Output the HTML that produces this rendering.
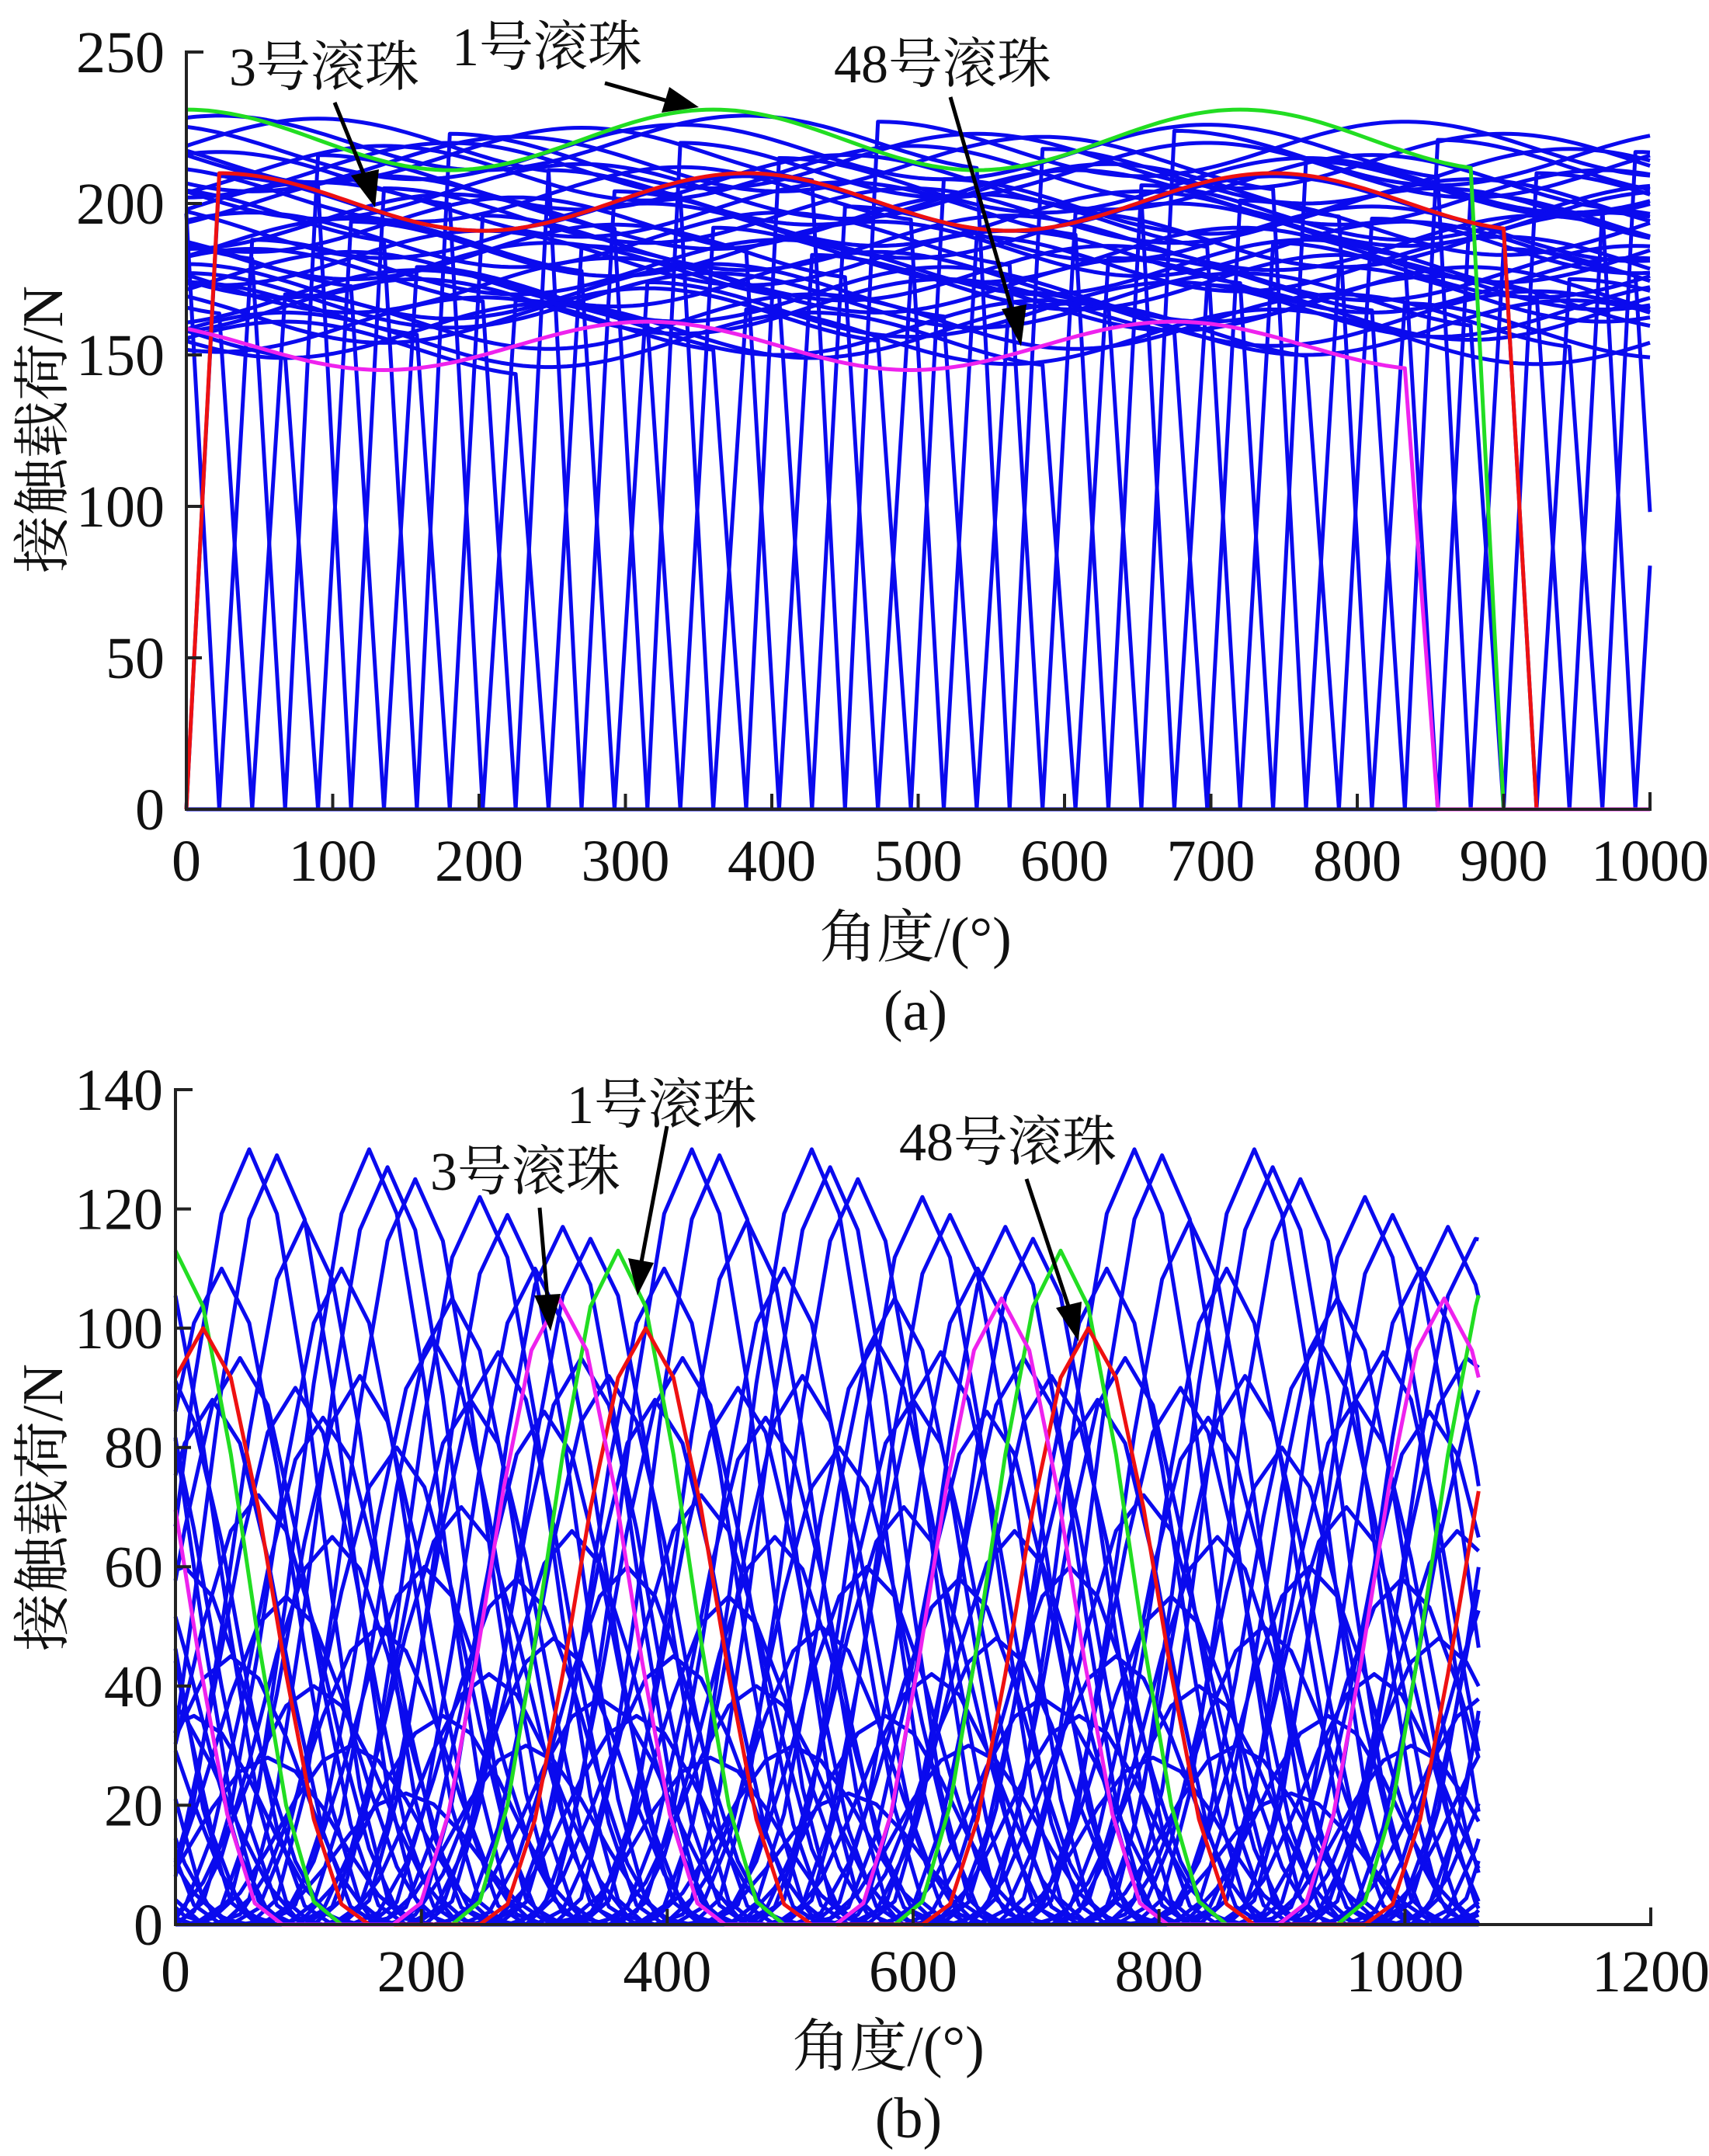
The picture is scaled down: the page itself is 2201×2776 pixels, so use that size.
<!DOCTYPE html>
<html><head><meta charset="utf-8"><style>
html,body{margin:0;padding:0;background:#fff}
svg{display:block}
text{font-family:"Liberation Serif","Noto Serif CJK SC",serif;fill:#111}
</style></head><body>
<svg id="fig" width="2201" height="2776" viewBox="0 0 2201 2776" xmlns="http://www.w3.org/2000/svg">
<g id="chartA"></g>
<g id="chartB"></g>
</svg>
<script>
// ---------- Chart (a) data ----------
const xTicksA = [0,100,200,300,400,500,600,700,800,900,1000];
const yTicksA = [0,50,100,150,200,250];
// ball start angles (zero point before ramp) = -900 + 22.5*j ; mean load per ball
const ballMeansA = [205,172,190,158,214,181,196,165,208,176,152,219,186,200,169,211,160,193,178,216,
  184,163,203,171,220,188,155,198,175,210,166,194,182,213,158,204,173,191,217,168,
  200,179,161,207,185,196,170,214,187,159,202,177,195,165,211,183,156,206,174,190,
  218,167,199,180,162,209,188,173,197,215,164,192,178,205,170,186,158,212,194,176,201,166,189,208,172];
const ampA = 9;
// highlighted balls
const hlNamesA = ['ball-1','ball-3','ball-48'];
const hlStartA = [-22.5, 0, -67.5];
const hlMeanA = [221, 200.5, 153];
const hlAmpA = [10, 9.5, 8];
const hlColorA = ['#22dd22','#ee1111','#ee22ee'];

// ---------- Chart (b) data ----------
const xTicksB = [0,200,400,600,800,1000,1200];
const yTicksB = [0,20,40,60,80,100,120,140];
const ballPhaseB = [7.5,15,30,37.5,45,52.5,60,67.5,75,82.5,90,97.5,105,112.5,120,127.5,135,142.5,150,157.5,
  165,172.5,180,187.5,195,202.5,210,217.5,225,232.5,240,247.5,255,262.5,270,277.5,285,292.5,300,307.5,
  315,322.5,330,337.5,345,352.5];
const ballPeakB = [60,35,88,110,45,95,130,72,28,129,55,90,118,40,85,65,110,30,92,130,
  50,127,80,22,125,60,98,35,105,70,88,122,42,96,119,58,30,110,86,48,
  117,66,95,115,38,92];
const hlNamesB = ['ball-1','ball-3','ball-48'];
const hlPhaseB = [0, 22.5, 312];
const hlPeakB = [113, 100, 105];
const hlColorB = ['#22dd22','#ee1111','#ee22ee'];

const NS='http://www.w3.org/2000/svg';
function mk(parent, tag, attrs){const e=document.createElementNS(NS,tag);for(const k in attrs)e.setAttribute(k,attrs[k]);parent.appendChild(e);return e;}
const SW=5;

// ---------- Chart A ----------
(function(){
  const g=document.getElementById('chartA');
  const X0=240,X1=2125,Y0=1042,Y1=67;
  const xs=v=>X0+(v/1000)*(X1-X0);
  const ys=v=>Y0-(v/250)*(Y0-Y1);
  function ballPts(s,mean,amp){
    const pts=[];
    const wave=t=>mean+amp*Math.cos(2*Math.PI*(t-s-22.5)/360);
    const val=t=>{
      if(t<=s||t>=s+922.5) return 0;
      if(t<s+22.5) return wave(s+22.5)*(t-s)/22.5;
      if(t>s+900) return wave(s+900)*(s+922.5-t)/22.5;
      return wave(t);
    };
    const ts=new Set([0,1000]);
    for(let t=0;t<=1000;t+=5)ts.add(t);
    [s,s+22.5,s+900,s+922.5].forEach(t=>{if(t>0&&t<1000)ts.add(t);});
    [...ts].sort((a,b)=>a-b).forEach(t=>pts.push(xs(t).toFixed(1)+','+ys(val(t)).toFixed(1)));
    return pts.join(' ');
  }
  const lines=mk(g,'g',{});
  
  
  ballMeansA.forEach((m,j)=>{
    const s=-900+22.5*j;
    const p=mk(lines,'polyline',{points:ballPts(s,m,ampA),fill:'none',stroke:'#0a0aee','stroke-width':SW,'stroke-linejoin':'round'});
    
    
  });
  hlStartA.forEach((s,i)=>{
    const p=mk(g,'polyline',{points:ballPts(s,hlMeanA[i],hlAmpA[i]),fill:'none',stroke:hlColorA[i],'stroke-width':SW,'stroke-linejoin':'round'});
    
    
  });
  const ax=mk(g,'path',{d:`M${X0+22},${Y1}H${X0}V${Y0}H${X1}V${Y0-22}`,fill:'none',stroke:'#222','stroke-width':4});
  
  
  xTicksA.forEach(v=>{
    mk(g,'line',{x1:xs(v),x2:xs(v),y1:Y0,y2:Y0-20,stroke:'#222','stroke-width':4});
    const t=mk(g,'text',{x:xs(v),y:1134,'font-size':76,'text-anchor':'middle'});t.textContent=v;
    
    
  });
  yTicksA.forEach(v=>{
    mk(g,'line',{x1:X0,x2:X0+20,y1:ys(v),y2:ys(v),stroke:'#222','stroke-width':4});
    const t=mk(g,'text',{x:212,y:ys(v)+26,'font-size':76,'text-anchor':'end'});t.textContent=v;
    
    
  });
})();

// ---------- Chart B ----------
(function(){
  const g=document.getElementById('chartB');
  const X0=226,X1=2126,Y0=2478,Y1=1403;
  const xs=v=>X0+(v/1200)*(X1-X0);
  const ys=v=>Y0-(v/140)*(Y0-Y1);
  function bell(d,h){const hw=135;d=Math.abs(d);if(d>=hw)return 0;return h*Math.pow(Math.cos(Math.PI/2*d/hw),2.5);}
  function ballPts(ph,h){
    const val=t=>{let best=0;for(let k=-2;k<=4;k++){best=Math.max(best,bell(t-(ph+360*k),h));}return best;};
    const ts=[0];
    let start=ph-22.5*Math.ceil(ph/22.5);
    for(let t=start;t<=1060;t+=22.5){if(t>0)ts.push(t);}
    ts.push(1060);
    return ts.map(t=>xs(t).toFixed(1)+','+ys(val(t)).toFixed(1)).join(' ');
  }
  const lines=mk(g,'g',{});
  
  
  ballPhaseB.forEach((ph,i)=>{
    const p=mk(lines,'polyline',{points:ballPts(ph,ballPeakB[i]),fill:'none',stroke:'#0a0aee','stroke-width':SW,'stroke-linejoin':'round'});
    
    
  });
  hlPhaseB.forEach((ph,i)=>{
    const p=mk(g,'polyline',{points:ballPts(ph,hlPeakB[i]),fill:'none',stroke:hlColorB[i],'stroke-width':SW,'stroke-linejoin':'round'});
    
    
  });
  const ax=mk(g,'path',{d:`M${X0+22},${Y1}H${X0}V${Y0}H${X1}V${Y0-22}`,fill:'none',stroke:'#222','stroke-width':4});
  
  
  xTicksB.forEach(v=>{
    mk(g,'line',{x1:xs(v),x2:xs(v),y1:Y0,y2:Y0-20,stroke:'#222','stroke-width':4});
    const t=mk(g,'text',{x:xs(v),y:2564,'font-size':76,'text-anchor':'middle'});t.textContent=v;
    
    
  });
  yTicksB.forEach(v=>{
    mk(g,'line',{x1:X0,x2:X0+20,y1:ys(v),y2:ys(v),stroke:'#222','stroke-width':4});
    const t=mk(g,'text',{x:210,y:ys(v)+26,'font-size':76,'text-anchor':'end'});t.textContent=v;
    
    
  });
})();
</script>
<svg width="2201" height="2776" style="position:absolute;left:0;top:0" xmlns="http://www.w3.org/2000/svg">
<g>
<text x="295" y="110" font-size="70">3号滚珠</text>
<text x="582" y="84" font-size="70">1号滚珠</text>
<text x="1074" y="106" font-size="70">48号滚珠</text>
<line x1="431" y1="132" x2="470" y2="228" stroke="#000" stroke-width="5"/>
<polygon points="483,267 452,226 488,218" fill="#000"/>
<line x1="779" y1="107" x2="860" y2="130" stroke="#000" stroke-width="5"/>
<polygon points="900,138 852,145 862,112" fill="#000"/>
<line x1="1224" y1="125" x2="1305" y2="405" stroke="#000" stroke-width="5"/>
<polygon points="1315,446 1290,398 1322,392" fill="#000"/>
<text x="1179" y="1232" font-size="74" text-anchor="middle">角度/(°)</text>
<text x="1179" y="1326" font-size="74" text-anchor="middle">(a)</text>
<text transform="translate(80,553) rotate(-90)" font-size="74" text-anchor="middle">接触载荷/N</text>
</g>
<g>
<text x="730" y="1446" font-size="70">1号滚珠</text>
<text x="554" y="1532" font-size="70">3号滚珠</text>
<text x="1158" y="1494" font-size="70">48号滚珠</text>
<line x1="695" y1="1555" x2="705" y2="1672" stroke="#000" stroke-width="5"/>
<polygon points="709,1714 688,1668 722,1666" fill="#000"/>
<line x1="859" y1="1450" x2="826" y2="1625" stroke="#000" stroke-width="5"/>
<polygon points="821,1668 809,1620 842,1626" fill="#000"/>
<line x1="1322" y1="1518" x2="1378" y2="1688" stroke="#000" stroke-width="5"/>
<polygon points="1389,1727 1360,1684 1393,1676" fill="#000"/>
<text x="1144" y="2660" font-size="74" text-anchor="middle">角度/(°)</text>
<text x="1170" y="2752" font-size="74" text-anchor="middle">(b)</text>
<text transform="translate(80,1941) rotate(-90)" font-size="74" text-anchor="middle">接触载荷/N</text>
</g>
</svg>
</body></html>
